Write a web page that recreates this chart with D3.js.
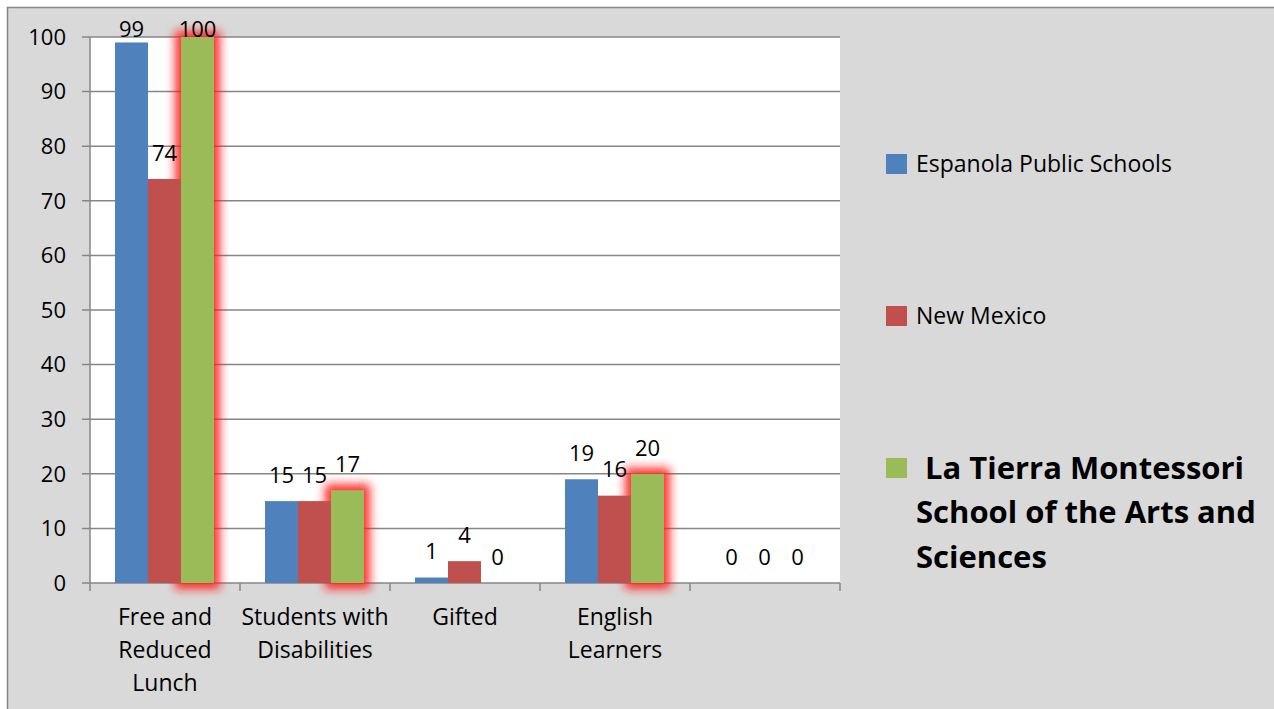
<!DOCTYPE html>
<html>
<head>
<meta charset="utf-8">
<title>Student groups</title>
<script src="https://cdn.jsdelivr.net/npm/d3@7"></script>
<style>
	html, body { margin: 0; padding: 0; background: #fff; }
	svg { display: block; font-family: "Open Sans", Lato, sans-serif; }
</style>
</head>
<body>
<div id="vis"></div>
<script>

// data
var categories = ["Free and Reduced Lunch", "Students with Disabilities", "Gifted", "English Learners", ""];
var categoryLines = [["Free and", "Reduced", "Lunch"], ["Students with", "Disabilities"], ["Gifted"], ["English", "Learners"], []];
var seriesNames = ["Espanola Public Schools", "New Mexico", "La Tierra Montessori School of the Arts and Sciences"];
var espanola = [99, 15, 1, 19, 0];
var newMexico = [74, 15, 4, 16, 0];
var laTierra = [100, 17, 0, 20, 0];
var yTicks = [0, 10, 20, 30, 40, 50, 60, 70, 80, 90, 100];

var colors = ["#4f81bd", "#c0504d", "#9bbb59"];
var seriesValues = [espanola, newMexico, laTierra];

var width = 1274, height = 709;
var plot = {left: 90, right: 840, top: 37, bottom: 583};

var svg = d3.select("#vis").append("svg")
	.attr("width", width)
	.attr("height", height);

var defs = svg.append("defs");
var glow = defs.append("filter")
	.attr("id", "glow")
	.attr("x", "-100%").attr("y", "-30%")
	.attr("width", "300%").attr("height", "160%");
glow.append("feMorphology").attr("in", "SourceAlpha").attr("operator", "dilate").attr("radius", 6).attr("result", "d");
glow.append("feGaussianBlur").attr("in", "d").attr("stdDeviation", 5).attr("result", "b");
glow.append("feFlood").attr("flood-color", "#ff1a1a").attr("flood-opacity", 0.9);
glow.append("feComposite").attr("in2", "b").attr("operator", "in");

// chart frame
svg.append("rect")
	.attr("x", 7.5).attr("y", 7.5)
	.attr("width", width + 10).attr("height", height + 10)
	.attr("fill", "#d9d9d9")
	.attr("stroke", "#868686")
	.attr("stroke-width", 1.5);

svg.append("rect")
	.attr("x", plot.left).attr("y", plot.top)
	.attr("width", plot.right - plot.left).attr("height", plot.bottom - plot.top)
	.attr("fill", "#fff");

var x0 = d3.scaleBand().domain(categories.map(function(d, i) { return i; }))
	.range([plot.left, plot.right]);
var x1 = d3.scaleBand().domain(d3.range(seriesNames.length))
	.range([25, 124]);
var y = d3.scaleLinear().domain([0, 100]).range([plot.bottom, plot.top]);

// gridlines
svg.append("g").selectAll("line")
	.data(yTicks)
	.enter().append("line")
	.attr("x1", plot.left - 8).attr("x2", plot.right)
	.attr("y1", function(d) { return y(d); })
	.attr("y2", function(d) { return y(d); })
	.attr("stroke", "#868686")
	.attr("stroke-width", 1.5);

// y axis line
svg.append("line")
	.attr("x1", plot.left).attr("x2", plot.left)
	.attr("y1", plot.top).attr("y2", plot.bottom)
	.attr("stroke", "#868686").attr("stroke-width", 1.5);

// x ticks
svg.append("g").selectAll("line")
	.data(d3.range(categories.length + 1))
	.enter().append("line")
	.attr("x1", function(d) { return plot.left + d * x0.bandwidth(); })
	.attr("x2", function(d) { return plot.left + d * x0.bandwidth(); })
	.attr("y1", plot.bottom).attr("y2", plot.bottom + 8)
	.attr("stroke", "#868686").attr("stroke-width", 1.5);

// y labels
svg.append("g").selectAll("text")
	.data(yTicks)
	.enter().append("text")
	.attr("x", 66)
	.attr("y", function(d) { return y(d); })
	.attr("dy", "0.35em")
	.attr("text-anchor", "end")
	.attr("font-size", 22)
	.attr("fill", "#000")
	.text(function(d) { return d; });

var flat = [];
seriesValues.forEach(function(vals, s) {
	vals.forEach(function(v, c) {
		flat.push({s: s, c: c, v: v});
	});
});

function barX(d) { return x0(d.c) + x1(d.s); }

// glow behind the school's bars
svg.append("g").selectAll("rect")
	.data(flat.filter(function(d) { return d.s === 2 && d.v > 0; }))
	.enter().append("rect")
	.attr("x", barX)
	.attr("y", function(d) { return y(d.v); })
	.attr("width", x1.bandwidth())
	.attr("height", function(d) { return y(0) - y(d.v); })
	.attr("fill", "#000")
	.attr("filter", "url(#glow)");

svg.append("g").selectAll("rect")
	.data(flat)
	.enter().append("rect")
	.attr("x", barX)
	.attr("y", function(d) { return y(d.v); })
	.attr("width", x1.bandwidth())
	.attr("height", function(d) { return y(0) - y(d.v); })
	.attr("fill", function(d) { return colors[d.s]; });

// value labels
svg.append("g").selectAll("text")
	.data(flat)
	.enter().append("text")
	.attr("x", function(d) { return barX(d) + x1.bandwidth() / 2; })
	.attr("y", function(d) { return Math.max(y(d.v) - 26, 29); })
	.attr("dy", "0.35em")
	.attr("text-anchor", "middle")
	.attr("font-size", 22)
	.text(function(d) { return d.v; });

// category labels
var cat = svg.append("g").selectAll("text")
	.data(categoryLines)
	.enter().append("text")
	.attr("text-anchor", "middle")
	.attr("font-size", 23)
	.attr("transform", function(d, i) { return "translate(" + (x0(i) + x0.bandwidth() / 2) + ",617)"; });
cat.selectAll("tspan")
	.data(function(d) { return d; })
	.enter().append("tspan")
	.attr("x", 0)
	.attr("y", function(d, i) { return i * 33; })
	.attr("dy", "0.35em")
	.text(function(d) { return d; });

// legend
var legend = svg.append("g");
var legendY = [164, 316, 468];
legend.selectAll("rect")
	.data(seriesNames)
	.enter().append("rect")
	.attr("x", 886)
	.attr("y", function(d, i) { return legendY[i] - 10; })
	.attr("width", 21).attr("height", 20)
	.attr("fill", function(d, i) { return colors[i]; });

legend.selectAll("text.reg")
	.data(seriesNames.slice(0, 2))
	.enter().append("text")
	.attr("class", "reg")
	.attr("x", 916)
	.attr("y", function(d, i) { return legendY[i]; })
	.attr("dy", "0.35em")
	.attr("font-size", 23)
	.text(function(d) { return d; });

var bigLines = ["La Tierra Montessori", "School of the Arts and", "Sciences"];
legend.append("g").selectAll("text")
	.data(bigLines)
	.enter().append("text")
	.attr("x", function(d, i) { return i === 0 ? 925 : 916; })
	.attr("y", function(d, i) { return legendY[2] + i * 44.5; })
	.attr("dy", "0.35em")
	.attr("font-size", 31)
	.attr("font-weight", "bold")
	.text(function(d) { return d; });

</script>
</body>
</html>
